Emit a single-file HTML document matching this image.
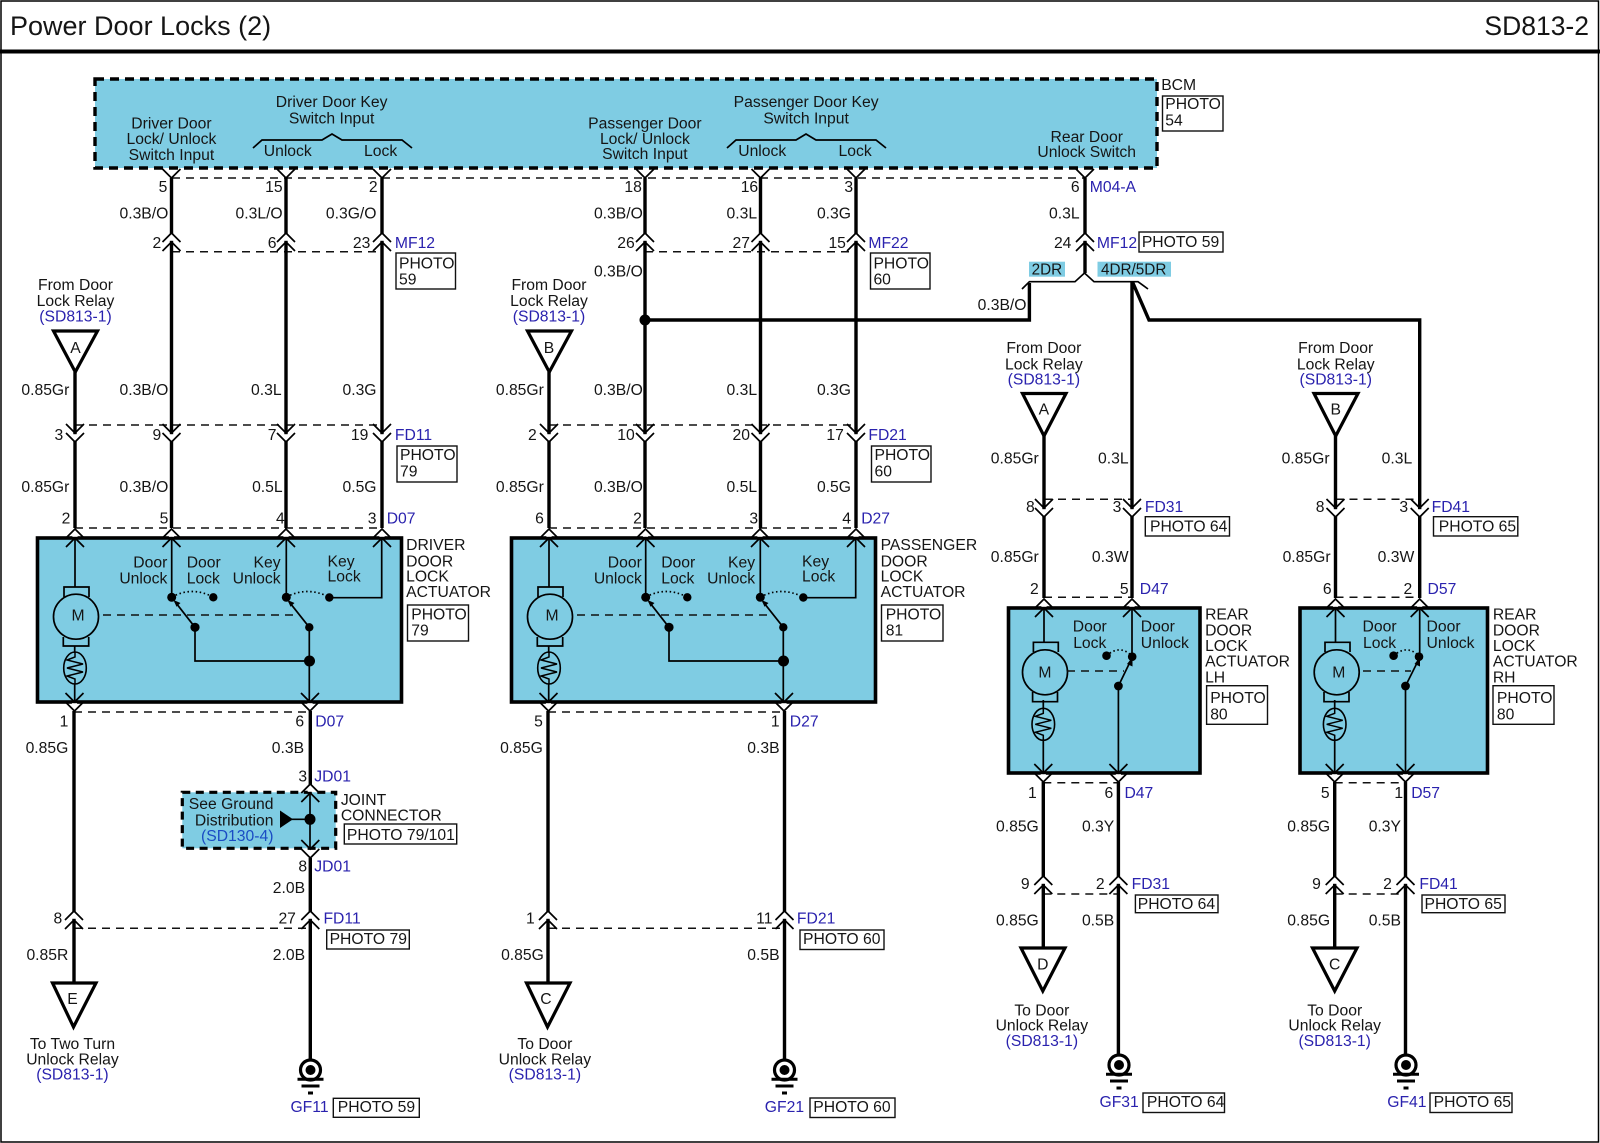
<!DOCTYPE html>
<html><head><meta charset="utf-8"><style>
html,body{margin:0;padding:0;background:#fff}
svg{display:block}
text{font-family:"Liberation Sans",sans-serif;font-size:15.4px;fill:#151515}
.e{text-anchor:end}.c{text-anchor:middle}.b{fill:#2a22ae}.s{fill:#1a4cc4}
.w{stroke:#000;stroke-width:3.4;fill:none}
.t{stroke:#000;stroke-width:1.7;fill:none}
.d{stroke:#111;stroke-width:1.5;stroke-dasharray:8 6;fill:none}
.bx{fill:#7fcce3;stroke:#000;stroke-width:3.6}
.ph{fill:#fff;stroke:#111;stroke-width:1.4}
.o{stroke:#000;stroke-width:1.7;stroke-dasharray:1.5 2.6;fill:none}
</style></head><body>
<svg width="1600" height="1143" viewBox="0 0 1600 1143" xmlns="http://www.w3.org/2000/svg">
<defs>
<g id="dn"><rect x="-2.6" y="1.2" width="5.2" height="6.6" fill="#fff"/><path class="t" d="M-9,-9L0,0L9,-9M-9,0L0,9L9,0"/></g>
<g id="up"><rect x="-2.6" y="-7.8" width="5.2" height="6.6" fill="#fff"/><path class="t" d="M-9,0L0,-9L9,0M-9,9L0,0L9,9"/></g>
<path id="y" class="t" d="M-9,-9L0,0L9,-9"/>
<g id="gnd"><circle r="10" fill="#fff" stroke="#000" stroke-width="3.2"/><circle r="5" fill="#000"/><path d="M-13,9.3H13M-9,16H9M-2.5,23H2.5" stroke="#000" stroke-width="3" fill="none"/></g>
<g id="zig"><ellipse rx="11.3" ry="16" fill="none" stroke="#000" stroke-width="1.6"/><path d="M0,-16L0,-11L-8,-8L8,-4L-8,0L8,4L-8,8L0,11L0,16" fill="none" stroke="#000" stroke-width="1.5"/></g>
<g id="act">
<path class="t" d="M75,538V587M74.700,646V653M74.700,684V702"/>
<path class="t" d="M64,597V587H89V597M63.300,637V646H88.700V637"/>
<circle cx="76" cy="616.700" r="22.500" fill="none" stroke="#000" stroke-width="1.7"/>
<use href="#zig" x="75" y="668"/>
<path class="d" d="M103,615H300"/>
<path class="t" d="M171.700,538V597M286.300,538V597M381.700,538V597.700H329.300M195,627.300V661H309.500M309.300,627.300V702"/>
<path class="t" d="M195,627.300L175,601.700M309.300,627.300L289,601.700"/>
<path d="M173.500,600L180.500,603L176.500,606.800ZM287.500,600L294.500,603L290.500,606.800Z" fill="#000"/>
<path class="o" d="M172,597Q192,586 213,597M286.500,597Q307,586 329,597"/>
<circle cx="171.700" cy="597.300" r="4.500"/><circle cx="213.300" cy="597.300" r="4.200"/><circle cx="286.300" cy="597.300" r="4.500"/><circle cx="329.300" cy="597.500" r="4.200"/>
<circle cx="195" cy="627.300" r="4.600"/><circle cx="309.300" cy="627.300" r="4.200"/><circle cx="309.500" cy="661" r="5.500"/>
<use href="#up" x="75" y="538"/><use href="#up" x="171.500" y="538"/><use href="#up" x="286" y="538"/><use href="#up" x="382" y="538"/>
<use href="#dn" x="74.500" y="702"/><use href="#dn" x="310" y="702"/>
</g>
</defs>
<rect x="1" y="1" width="1597.500" height="1141" fill="none" stroke="#000" stroke-width="1.500"/>
<rect x="0" y="49.500" width="1600" height="4" fill="#000"/>

<!-- BCM -->
<rect x="95" y="79" width="1062" height="89" fill="#7fcce3" stroke="#000" stroke-width="3.400" stroke-dasharray="9 6"/>
<path class="t" stroke-width="1.500" d="M253,148L262,140H322L332,134L342,140H402L412,148M727,148L736,140H796L806,134L816,140H876L886,148"/>
<!-- dashed connector lines -->
<path class="d" d="M172,178H1085M172,251.700H382M645,251.700H856M75,425H382M549,425H856M75,528H382M549,528H856M74,712H310M548,712H784.500M74,928.300H310M548,928.300H784.500"/>
<path class="d" d="M1044,499.300H1132M1335.500,499.300H1420M1044,597.300H1132M1335.500,597.300H1420M1043.300,782.700H1118.400M1334.700,782.700H1405.500M1043.300,894H1118.400M1334.700,894H1405.500"/>
<!-- thick wires: upper -->
<path class="w" d="M171.500,178V528M286,178V528M382,178V528M645,178V528M760.500,178V528M856,178V528M1085,178V273"/>
<path class="w" stroke-width="3.400" d="M75,372V528M549,372V528"/>
<path class="w" d="M1029.400,283V320H645M1132,282V598M1132.500,282L1149,320H1419.700V598M1044,436V598M1335.500,436V598"/>
<path class="t" d="M1022,289L1029.400,281.700H1075L1084.500,273L1094,281.700H1138L1148,289"/>
<circle cx="645" cy="320" r="5.500"/>
<!-- lower wires -->
<path class="w" d="M74,711V983M310.300,711V785M310.300,858V1065M548,711V983M784.500,711V1065"/>
<path class="w" d="M1043.300,782V948M1118.400,782V1062M1334.700,782V948M1405.500,782V1062"/>

<!-- connectors -->
<use href="#y" x="171.500" y="178"/><use href="#y" x="286" y="178"/><use href="#y" x="382" y="178"/>
<use href="#y" x="645" y="178"/><use href="#y" x="760.500" y="178"/><use href="#y" x="856" y="178"/><use href="#y" x="1085" y="178"/>
<use href="#up" x="171.500" y="242"/><use href="#up" x="286" y="242"/><use href="#up" x="382" y="242"/>
<use href="#up" x="645" y="242"/><use href="#up" x="760.500" y="242"/><use href="#up" x="856" y="242"/><use href="#up" x="1085" y="242"/>
<use href="#dn" x="75" y="433"/><use href="#dn" x="171.500" y="433"/><use href="#dn" x="286" y="433"/><use href="#dn" x="382" y="433"/>
<use href="#dn" x="549" y="433"/><use href="#dn" x="645" y="433"/><use href="#dn" x="760.500" y="433"/><use href="#dn" x="856" y="433"/>
<use href="#dn" x="1044" y="508"/><use href="#dn" x="1132" y="508"/><use href="#dn" x="1335.500" y="508"/><use href="#dn" x="1419.700" y="508"/>
<use href="#up" x="74" y="920"/><use href="#up" x="310.300" y="920"/><use href="#up" x="548" y="920"/><use href="#up" x="784.500" y="920"/>
<use href="#up" x="1043.300" y="885"/><use href="#up" x="1118.400" y="885"/><use href="#up" x="1334.700" y="885"/><use href="#up" x="1405.500" y="885"/>

<!-- actuators -->
<rect class="bx" x="37.500" y="538" width="364" height="164"/>
<rect class="bx" x="511.500" y="538" width="364" height="164"/>
<use href="#act"/>
<use href="#act" x="474"/>
<rect class="bx" x="1008.500" y="608" width="191.500" height="165"/>
<path class="t" d="M1044,608V642M1043.300,740V773M1043.300,700V708M1118.400,686V773M1132,608V657"/>
<path class="t" d="M1033.400,652V642.300H1058.300V652M1032.600,692V701.700H1057.500V692"/>
<circle cx="1045" cy="672.300" r="22.500" fill="none" stroke="#000" stroke-width="1.700"/>
<use href="#zig" x="1043.300" y="724.300"/>
<path class="d" d="M1067,671H1124"/>
<path class="t" d="M1118.400,686L1131,660"/>
<path d="M1132.500,657V666.500L1127,664Z" fill="#000"/>
<path class="o" d="M1106.500,655.700Q1120,644 1132,656"/>
<circle cx="1106.500" cy="655.700" r="4.300"/><circle cx="1132.200" cy="656.700" r="4.300"/><circle cx="1118.400" cy="686" r="4.400"/>
<use href="#up" x="1044" y="608"/><use href="#up" x="1132" y="608"/>
<use href="#dn" x="1043.300" y="773"/><use href="#dn" x="1118.400" y="773"/>

<rect class="bx" x="1300" y="608" width="187.500" height="165"/>
<path class="t" d="M1335.500,608V642M1334.700,740V773M1334.700,700V708M1405.500,686V773M1419.700,608V657"/>
<path class="t" d="M1325,652V642.300H1350V652M1324,692V701.700H1349V692"/>
<circle cx="1336.700" cy="672.300" r="22.500" fill="none" stroke="#000" stroke-width="1.700"/>
<use href="#zig" x="1334.700" y="724.300"/>
<path class="d" d="M1363,671H1411"/>
<path class="t" d="M1405.500,686L1418.500,660"/>
<path d="M1420,657V666.500L1414.500,664Z" fill="#000"/>
<path class="o" d="M1393.600,655.700Q1407,644 1419,656"/>
<circle cx="1393.600" cy="655.700" r="4.300"/><circle cx="1419" cy="656.700" r="4.300"/><circle cx="1405.500" cy="686" r="4.400"/>
<use href="#up" x="1335.500" y="608"/><use href="#up" x="1419.700" y="608"/>
<use href="#dn" x="1334.700" y="773"/><use href="#dn" x="1405.500" y="773"/>

<!-- joint connector -->
<rect x="182.300" y="792.300" width="153.400" height="56" fill="#7fcce3" stroke="#000" stroke-width="3.200" stroke-dasharray="8 5.500"/>
<path class="t" d="M310,792V849M290,819.300H310"/>
<path d="M280,810.500L293,819.300L280,828Z" fill="#000"/>
<circle cx="310" cy="819.300" r="5.500"/>
<use href="#up" x="310.300" y="793"/><use href="#dn" x="310.300" y="849"/>

<!-- triangles -->
<g fill="#fff" stroke="#000" stroke-width="3.200">
<path d="M53.500,331H97.500L75.300,372Z"/><path d="M527.500,331H571.500L549.300,372Z"/>
<path d="M1022.500,393.500H1066L1044,436Z"/><path d="M1314,393.500H1358L1335.700,436Z"/>
<path d="M52.500,983H96L73.500,1027Z"/><path d="M526.500,983H570L547.500,1027Z"/>
<path d="M1021,948H1065L1042.800,991Z"/><path d="M1312.500,948H1357L1334.700,991Z"/>
</g>
<!-- grounds -->
<use href="#gnd" x="310.500" y="1070"/><use href="#gnd" x="784.500" y="1070"/>
<use href="#gnd" x="1119" y="1065"/><use href="#gnd" x="1406" y="1065"/>

<!-- labels -->
<rect x="1029" y="261.700" width="36" height="15" fill="#7fcce3"/><rect x="1097.500" y="261.700" width="73.500" height="15" fill="#7fcce3"/>
<!-- photo boxes -->
<rect class="ph" x="1162.500" y="96" width="60.500" height="35"/>
<rect class="ph" x="396" y="253" width="59.500" height="36"/>
<rect class="ph" x="870.500" y="253" width="59.500" height="36"/>
<rect class="ph" x="1139" y="232" width="84" height="20"/>
<rect class="ph" x="397" y="446" width="60" height="36"/>
<rect class="ph" x="871.500" y="446" width="59.500" height="36"/>
<rect class="ph" x="407.500" y="605" width="61" height="36"/>
<rect class="ph" x="881.500" y="605" width="61.500" height="36"/>
<rect class="ph" x="1145.300" y="516.700" width="84.200" height="19.300"/>
<rect class="ph" x="1433.500" y="516.700" width="84.300" height="19.300"/>
<rect class="ph" x="1206.600" y="685.700" width="60.900" height="38.600"/>
<rect class="ph" x="1493" y="685.700" width="61" height="38.600"/>
<rect class="ph" x="344.300" y="824" width="112.400" height="20"/>
<rect class="ph" x="326.700" y="930" width="82.600" height="19"/>
<rect class="ph" x="800" y="930" width="84" height="19.500"/>
<rect class="ph" x="1135.400" y="895" width="82.600" height="17.700"/>
<rect class="ph" x="1422" y="895" width="83" height="17.700"/>
<rect class="ph" x="333.300" y="1098.300" width="86" height="19"/>
<rect class="ph" x="810" y="1098" width="85" height="19.500"/>
<rect class="ph" x="1143" y="1093" width="81.500" height="19.500"/>
<rect class="ph" x="1430" y="1093" width="82" height="19.500"/>

<text x="10" y="35" style="font-size:27px">Power Door Locks (2)</text>
<text x="1589" y="35" class="e" style="font-size:26.500px">SD813-2</text>

<g transform="scale(1.0204)">
<!-- BCM text -->
<text class="c" x="168" y="126">Driver Door</text><text class="c" x="168" y="141">Lock/ Unlock</text><text class="c" x="168" y="157">Switch Input</text>
<text class="c" x="325" y="105">Driver Door Key</text><text class="c" x="325" y="121">Switch Input</text>
<text class="c" x="282" y="153">Unlock</text><text class="c" x="373" y="153">Lock</text>
<text class="c" x="632" y="126">Passenger Door</text><text class="c" x="632" y="141">Lock/ Unlock</text><text class="c" x="632" y="156">Switch Input</text>
<text class="c" x="790" y="105">Passenger Door Key</text><text class="c" x="790" y="121">Switch Input</text>
<text class="c" x="747" y="153">Unlock</text><text class="c" x="838" y="153">Lock</text>
<text class="c" x="1065" y="139">Rear Door</text><text class="c" x="1065" y="154">Unlock Switch</text>
<text x="1138" y="88">BCM</text><text x="1142" y="107">PHOTO</text><text x="1142" y="123">54</text>
<!-- top pins -->
<text class="e" x="164" y="188">5</text><text class="e" x="277" y="188">15</text><text class="e" x="370" y="188">2</text>
<text class="e" x="629" y="188">18</text><text class="e" x="743" y="188">16</text><text class="e" x="836" y="188">3</text><text class="e" x="1058" y="188">6</text>
<text class="b" x="1068" y="188">M04-A</text>
<text class="e" x="165" y="214">0.3B/O</text><text class="e" x="277" y="214">0.3L/O</text><text class="e" x="369" y="214">0.3G/O</text>
<text class="e" x="630" y="214">0.3B/O</text><text class="e" x="742" y="214">0.3L</text><text class="e" x="834" y="214">0.3G</text><text class="e" x="1058" y="214">0.3L</text>
<text class="e" x="158" y="243">2</text><text class="e" x="271" y="243">6</text><text class="e" x="363" y="243">23</text><text class="b" x="387" y="243">MF12</text>
<text x="391" y="263">PHOTO</text><text x="391" y="279">59</text>
<text class="e" x="622" y="243">26</text><text class="e" x="735" y="243">27</text><text class="e" x="829" y="243">15</text><text class="b" x="851" y="243">MF22</text>
<text x="856" y="263">PHOTO</text><text x="856" y="279">60</text>
<text class="e" x="1050" y="243">24</text><text class="b" x="1075" y="243">MF12</text><text x="1119" y="242">PHOTO 59</text>
<text class="c" x="1026" y="269" style="font-size:15px">2DR</text><text class="c" x="1111" y="269" style="font-size:15px">4DR/5DR</text>
<text class="e" x="1006" y="304">0.3B/O</text><text class="e" x="630" y="271">0.3B/O</text>
<!-- from door -->
<text class="c" x="74" y="284">From Door</text><text class="c" x="74" y="300">Lock Relay</text><text class="c b" x="74" y="315">(SD813-1)</text>
<text class="c" x="538" y="284">From Door</text><text class="c" x="538" y="300">Lock Relay</text><text class="c b" x="538" y="315">(SD813-1)</text>
<text class="c" x="74" y="346">A</text><text class="c" x="538" y="346">B</text>
<!-- row 382 -->
<text class="e" x="68" y="387">0.85Gr</text><text class="e" x="165" y="387">0.3B/O</text><text class="e" x="276" y="387">0.3L</text><text class="e" x="369" y="387">0.3G</text>
<text class="e" x="533" y="387">0.85Gr</text><text class="e" x="630" y="387">0.3B/O</text><text class="e" x="742" y="387">0.3L</text><text class="e" x="834" y="387">0.3G</text>
<!-- FD11 -->
<text class="e" x="62" y="431">3</text><text class="e" x="158" y="431">9</text><text class="e" x="271" y="431">7</text><text class="e" x="361" y="431">19</text><text class="b" x="387" y="431">FD11</text>
<text x="392" y="451">PHOTO</text><text x="392" y="467">79</text>
<text class="e" x="526" y="431">2</text><text class="e" x="622" y="431">10</text><text class="e" x="735" y="431">20</text><text class="e" x="827" y="431">17</text><text class="b" x="851" y="431">FD21</text>
<text x="857" y="451">PHOTO</text><text x="857" y="467">60</text>
<text class="e" x="68" y="482">0.85Gr</text><text class="e" x="165" y="482">0.3B/O</text><text class="e" x="277" y="482">0.5L</text><text class="e" x="369" y="482">0.5G</text>
<text class="e" x="533" y="482">0.85Gr</text><text class="e" x="630" y="482">0.3B/O</text><text class="e" x="742" y="482">0.5L</text><text class="e" x="834" y="482">0.5G</text>
<!-- D07 -->
<text class="e" x="69" y="513">2</text><text class="e" x="165" y="513">5</text><text class="e" x="279" y="513">4</text><text class="e" x="369" y="513">3</text><text class="b" x="379" y="513">D07</text>
<text class="e" x="533" y="513">6</text><text class="e" x="629" y="513">2</text><text class="e" x="743" y="513">3</text><text class="e" x="834" y="513">4</text><text class="b" x="844" y="513">D27</text>
<text x="398" y="539">DRIVER</text><text x="398" y="555">DOOR</text><text x="398" y="570">LOCK</text><text x="398" y="585">ACTUATOR</text>
<text x="403" y="607">PHOTO</text><text x="403" y="623">79</text>
<text x="863" y="539">PASSENGER</text><text x="863" y="555">DOOR</text><text x="863" y="570">LOCK</text><text x="863" y="585">ACTUATOR</text>
<text x="868" y="607">PHOTO</text><text x="868" y="623">81</text>
<text class="e" x="164" y="556">Door</text><text class="e" x="164" y="572">Unlock</text><text x="183" y="556">Door</text><text x="183" y="572">Lock</text>
<text class="e" x="275" y="556">Key</text><text class="e" x="275" y="572">Unlock</text><text x="321" y="555">Key</text><text x="321" y="570">Lock</text>
<text class="e" x="629" y="556">Door</text><text class="e" x="629" y="572">Unlock</text><text x="648" y="556">Door</text><text x="648" y="572">Lock</text>
<text class="e" x="740" y="556">Key</text><text class="e" x="740" y="572">Unlock</text><text x="786" y="555">Key</text><text x="786" y="570">Lock</text>
<text class="c" x="76.500" y="608">M</text><text class="c" x="541" y="608">M</text>
<!-- lower driver -->
<text class="e" x="67" y="712">1</text><text class="e" x="298" y="712">6</text><text class="b" x="309" y="712">D07</text>
<text class="e" x="532" y="712">5</text><text class="e" x="764" y="712">1</text><text class="b" x="774" y="712">D27</text>
<text class="e" x="67" y="738">0.85G</text><text class="e" x="298" y="738">0.3B</text><text class="e" x="532" y="738">0.85G</text><text class="e" x="764" y="738">0.3B</text>
<text class="e" x="301" y="766">3</text><text class="b" x="308" y="766">JD01</text>
<text x="334" y="789">JOINT</text><text x="334" y="804">CONNECTOR</text><text x="340" y="823">PHOTO 79/101</text>
<text class="e" x="268" y="793">See Ground</text><text class="e" x="268" y="809">Distribution</text><text class="e s" x="268" y="824">(SD130-4)</text>
<text class="e" x="301" y="854">8</text><text class="b" x="308" y="854">JD01</text><text class="e" x="299" y="875">2.0B</text>
<text class="e" x="61" y="905">8</text><text class="e" x="290" y="905">27</text><text class="b" x="317" y="905">FD11</text><text x="323" y="925">PHOTO 79</text>
<text class="e" x="524" y="905">1</text><text class="e" x="757" y="905">11</text><text class="b" x="781" y="905">FD21</text><text x="787" y="925">PHOTO 60</text>
<text class="e" x="67" y="941">0.85R</text><text class="e" x="299" y="941">2.0B</text><text class="e" x="533" y="941">0.85G</text><text class="e" x="764" y="941">0.5B</text>
<text class="c" x="71" y="984">E</text><text class="c" x="535" y="984">C</text>
<text class="c" x="71" y="1028">To Two Turn</text><text class="c" x="71" y="1043">Unlock Relay</text><text class="c b" x="71" y="1058">(SD813-1)</text>
<text class="c" x="534" y="1028">To Door</text><text class="c" x="534" y="1043">Unlock Relay</text><text class="c b" x="534" y="1058">(SD813-1)</text>
<text class="e b" x="322" y="1090">GF11</text><text x="331" y="1090">PHOTO 59</text>
<text class="e b" x="788" y="1090">GF21</text><text x="797" y="1090">PHOTO 60</text>
<!-- rear -->
<text class="c" x="1023" y="346">From Door</text><text class="c" x="1023" y="362">Lock Relay</text><text class="c b" x="1023" y="377">(SD813-1)</text>
<text class="c" x="1309" y="346">From Door</text><text class="c" x="1309" y="362">Lock Relay</text><text class="c b" x="1309" y="377">(SD813-1)</text>
<text class="c" x="1023" y="406">A</text><text class="c" x="1309" y="406">B</text>
<text class="e" x="1018" y="454">0.85Gr</text><text class="e" x="1106" y="454">0.3L</text><text class="e" x="1303" y="454">0.85Gr</text><text class="e" x="1384" y="454">0.3L</text>
<text class="e" x="1014" y="502">8</text><text class="e" x="1099" y="502">3</text><text class="b" x="1122" y="502">FD31</text><text x="1127" y="521">PHOTO 64</text>
<text class="e" x="1298" y="502">8</text><text class="e" x="1380" y="502">3</text><text class="b" x="1403" y="502">FD41</text><text x="1410" y="521">PHOTO 65</text>
<text class="e" x="1018" y="551">0.85Gr</text><text class="e" x="1106" y="551">0.3W</text><text class="e" x="1304" y="551">0.85Gr</text><text class="e" x="1386" y="551">0.3W</text>
<text class="e" x="1018" y="582">2</text><text class="e" x="1106" y="582">5</text><text class="b" x="1117" y="582">D47</text>
<text class="e" x="1305" y="582">6</text><text class="e" x="1384" y="582">2</text><text class="b" x="1399" y="582">D57</text>
<text x="1181" y="607">REAR</text><text x="1181" y="623">DOOR</text><text x="1181" y="638">LOCK</text><text x="1181" y="653">ACTUATOR</text><text x="1181" y="669">LH</text>
<text x="1186" y="689">PHOTO</text><text x="1186" y="705">80</text>
<text x="1463" y="607">REAR</text><text x="1463" y="623">DOOR</text><text x="1463" y="638">LOCK</text><text x="1463" y="653">ACTUATOR</text><text x="1463" y="669">RH</text>
<text x="1467" y="689">PHOTO</text><text x="1467" y="705">80</text>
<text class="c" x="1068" y="619">Door</text><text class="c" x="1068" y="635">Lock</text><text x="1118" y="619">Door</text><text x="1118" y="635">Unlock</text>
<text class="c" x="1352" y="619">Door</text><text class="c" x="1352" y="635">Lock</text><text x="1398" y="619">Door</text><text x="1398" y="635">Unlock</text>
<text class="c" x="1024" y="664">M</text><text class="c" x="1312" y="664">M</text>
<text class="e" x="1016" y="782">1</text><text class="e" x="1091" y="782">6</text><text class="b" x="1102" y="782">D47</text>
<text class="e" x="1303" y="782">5</text><text class="e" x="1375" y="782">1</text><text class="b" x="1383" y="782">D57</text>
<text class="e" x="1018" y="815">0.85G</text><text class="e" x="1092" y="815">0.3Y</text><text class="e" x="1303.500" y="815">0.85G</text><text class="e" x="1373" y="815">0.3Y</text>
<text class="e" x="1009" y="871">9</text><text class="e" x="1082.500" y="871">2</text><text class="b" x="1109" y="871">FD31</text><text x="1115" y="891">PHOTO 64</text>
<text class="e" x="1294.500" y="871">9</text><text class="e" x="1364" y="871">2</text><text class="b" x="1391" y="871">FD41</text><text x="1396" y="891">PHOTO 65</text>
<text class="e" x="1018" y="907">0.85G</text><text class="e" x="1092" y="907">0.5B</text><text class="e" x="1303.500" y="907">0.85G</text><text class="e" x="1373" y="907">0.5B</text>
<text class="c" x="1022" y="950">D</text><text class="c" x="1308" y="950">C</text>
<text class="c" x="1021" y="995">To Door</text><text class="c" x="1021" y="1010">Unlock Relay</text><text class="c b" x="1021" y="1025">(SD813-1)</text>
<text class="c" x="1308" y="995">To Door</text><text class="c" x="1308" y="1010">Unlock Relay</text><text class="c b" x="1308" y="1025">(SD813-1)</text>
<text class="e b" x="1116" y="1085">GF31</text><text x="1124" y="1085">PHOTO 64</text>
<text class="e b" x="1398" y="1085">GF41</text><text x="1405" y="1085">PHOTO 65</text>
</g>
</svg>
</body></html>
